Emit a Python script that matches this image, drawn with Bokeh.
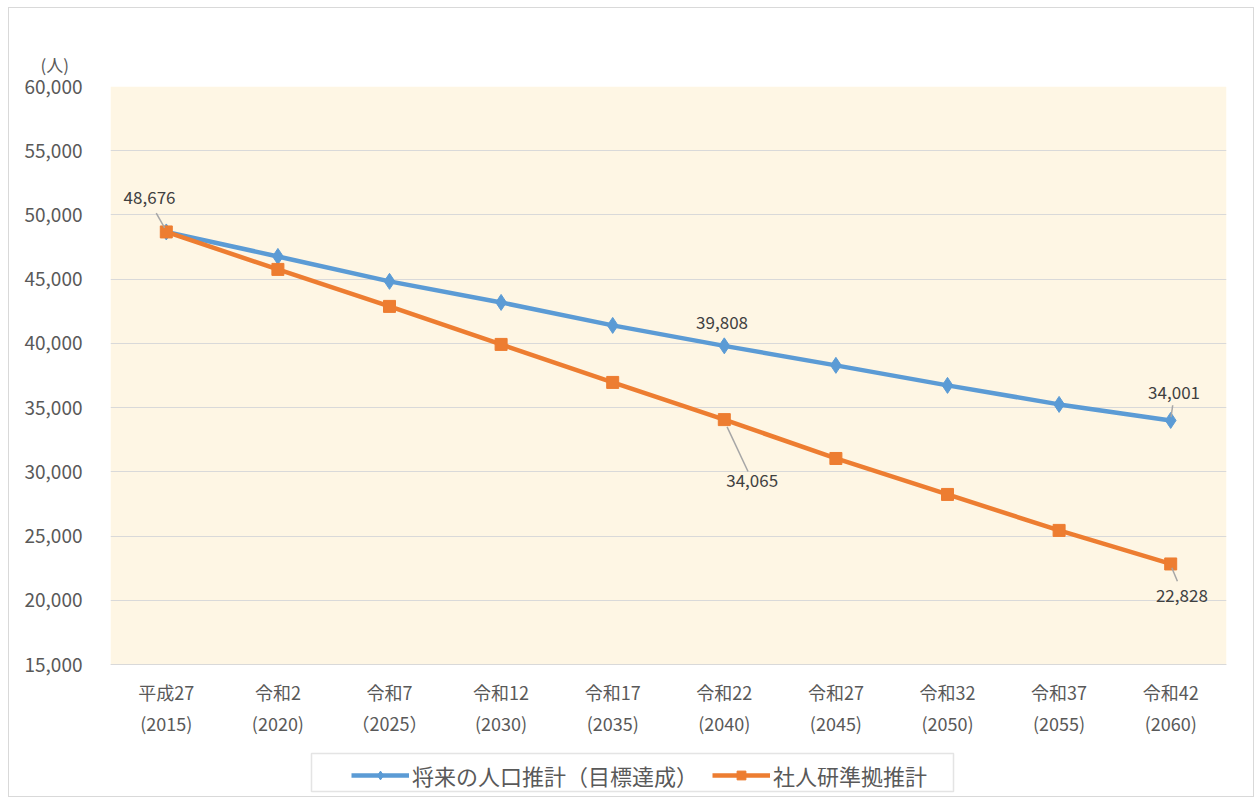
from bokeh.plotting import figure
from bokeh.models import (ColumnDataSource, Legend, LegendItem, Label, NumeralTickFormatter,
                          FixedTicker, Range1d, BoxAnnotation)
from bokeh.embed import file_html
from bokeh.resources import INLINE

categories = ["平成27\n(2015)", "令和2\n(2020)", "令和7\n（2025）", "令和12\n(2030)", "令和17\n(2035)",
              "令和22\n(2040)", "令和27\n(2045)", "令和32\n(2050)", "令和37\n(2055)", "令和42\n(2060)"]
target = [48676, 46770, 44830, 43190, 41400, 39808, 38290, 36730, 35250, 34001]
ipss = [48676, 45760, 42880, 39920, 36960, 34065, 31040, 28240, 25440, 22828]
y_ticks = [15000, 20000, 25000, 30000, 35000, 40000, 45000, 50000, 55000, 60000]
series_names = ["将来の人口推計（目標達成）", "社人研準拠推計"]
unit_label = "(人)"

FONT = "Noto Sans CJK JP"
BLUE = "#5B9BD5"
ORANGE = "#ED7D31"
TXT = "#595959"

# layout constants (pixels)
PLOT_TOP, PLOT_BOTTOM, FRAME_BOTTOM = 85, 663, 795
PX_PER_UNIT = (y_ticks[-1] - y_ticks[0]) / (PLOT_BOTTOM - PLOT_TOP)
y_start = y_ticks[0] - (FRAME_BOTTOM - PLOT_BOTTOM) * PX_PER_UNIT


def y_at(px):
    return y_ticks[-1] - (px - PLOT_TOP) * PX_PER_UNIT


xs = list(range(len(categories)))
CAT_PX = (1225 - 109) / len(categories)


def x_at(px):
    return -0.5 + (px - 109) / CAT_PX


p = figure(width=1246, height=790, output_backend="svg", toolbar_location=None,
           x_range=Range1d(-0.5, len(categories) - 0.5), y_range=Range1d(y_start, y_ticks[-1]),
           title=unit_label)
p.min_border_left = 101
p.min_border_right = 29
p.min_border_top = 78
p.min_border_bottom = 2
p.background_fill_color = "white"
p.border_fill_color = "white"
p.outline_line_color = None
p.styles = {"border": "1px solid #d9d9d9", "margin-left": "8px", "margin-top": "7px"}

# "(人)" unit label as the title, shifted over the y tick labels
p.title.text_font = FONT
p.title.text_font_size = "17px"
p.title.text_font_style = "normal"
p.title.text_color = TXT
p.title.align = "left"
p.title.offset = -70
p.title.standoff = 20

# plot-area fill (cream) between the axis limits
p.add_layout(BoxAnnotation(bottom=y_ticks[0], top=y_ticks[-1], fill_color="#FEF6E4", fill_alpha=1,
                           line_color=None, level="image"))

p.xgrid.grid_line_color = None
p.ygrid.grid_line_color = "#d9d9d9"
p.ygrid.grid_line_width = 1
p.ygrid.ticker = FixedTicker(ticks=y_ticks)

p.yaxis.ticker = FixedTicker(ticks=y_ticks)
p.yaxis.formatter = NumeralTickFormatter(format="0,0")
p.yaxis.axis_line_color = None
p.yaxis.major_tick_line_color = None
p.yaxis.minor_tick_line_color = None
p.yaxis.major_label_text_font = FONT
p.yaxis.major_label_text_font_size = "19px"
p.yaxis.major_label_text_color = TXT
p.yaxis.major_label_standoff = 22

p.xaxis.fixed_location = y_ticks[0]
p.xaxis.ticker = FixedTicker(ticks=xs)
p.xaxis.major_label_overrides = {i: c for i, c in enumerate(categories)}
p.xaxis.axis_line_color = "#d9d9d9"
p.xaxis.major_tick_line_color = None
p.xaxis.minor_tick_line_color = None
p.xaxis.major_label_text_font = FONT
p.xaxis.major_label_text_font_size = "18px"
p.xaxis.major_label_text_color = TXT
p.xaxis.major_label_standoff = 8

src = ColumnDataSource(dict(x=xs, a=target, b=ipss))
la = p.line("x", "a", source=src, line_color=BLUE, line_width=4.5)
ma = p.scatter("x", "a", source=src, marker="diamond", size=16, fill_color=BLUE, line_color=BLUE)
lb = p.line("x", "b", source=src, line_color=ORANGE, line_width=4.5)
mb = p.scatter("x", "b", source=src, marker="square", size=12, fill_color=ORANGE, line_color=ORANGE)


def fmt(v):
    return f"{v:,}"


labels = [
    # (index, series, dx (category units), dy (value units), leader line)
    (0, target, -0.15, 2650, True),
    (5, target, -0.02, 1850, False),
    (9, target, 0.03, 2150, True),
    (5, ipss, 0.25, -4750, True),
    (9, ipss, 0.1, -2450, True),
]
for i, ser, dx, dy, leader in labels:
    v = ser[i]
    p.add_layout(Label(x=i + dx, y=v + dy, text=fmt(v), text_font=FONT, text_font_size="17px",
                       text_color="#404040", text_align="center", text_baseline="middle"))
    if leader:
        far = abs(dy) > 3000
        ex = i + dx * (0.85 if far else 0.6)
        ey = v + dy * (0.85 if far else 0.55)
        p.segment(x0=[i + dx * 0.1], y0=[v + dy * 0.12], x1=[ex], y1=[ey],
                  line_color="#a6a6a6", line_width=1.5)

# legend frame
p.add_layout(BoxAnnotation(left=x_at(310), right=x_at(952), top=y_at(752), bottom=y_at(790),
                           fill_color="white", fill_alpha=1, line_color="#a6a6a6",
                           line_width=1.5, level="annotation"))

legend = Legend(items=[LegendItem(label=series_names[0], renderers=[la, ma]),
                       LegendItem(label=series_names[1], renderers=[lb, mb])],
                orientation="horizontal", location=(350 - 109, FRAME_BOTTOM - 790))
legend.label_text_font = FONT
legend.label_text_font_size = "22px"
legend.label_text_color = TXT
legend.border_line_color = None
legend.background_fill_alpha = 0
legend.glyph_width = 58
legend.glyph_height = 22
legend.spacing = 14
legend.padding = 8
legend.margin = 0
legend.label_standoff = 3
legend.label_height = 22
p.add_layout(legend, "center")

open("out.html", "w").write(file_html(p, INLINE))
